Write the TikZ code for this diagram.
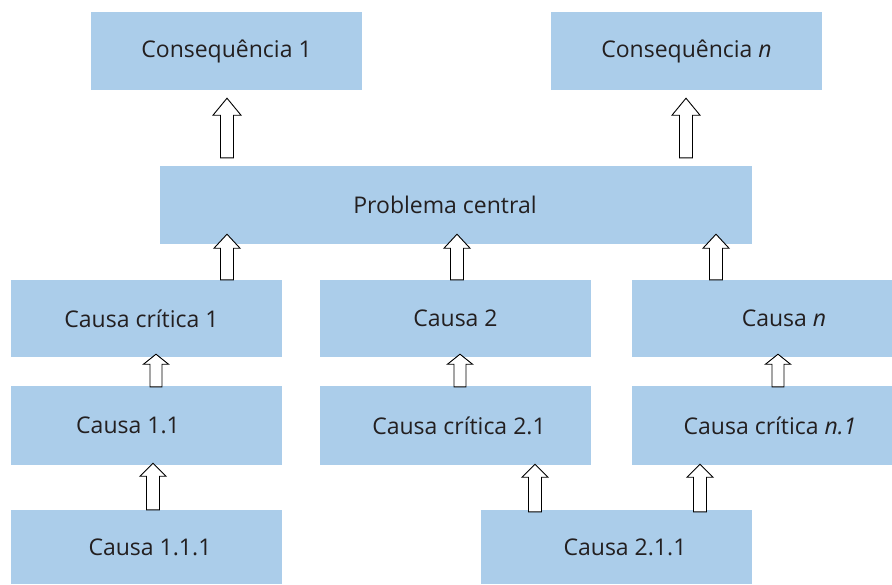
\documentclass[tikz,border=0pt]{standalone}
\usepackage{fontspec}
\setmainfont{Open Sans}
\usetikzlibrary{calc}
\definecolor{boxblue}{RGB}{171,205,234}
\definecolor{txt}{RGB}{35,31,32}
\tikzset{
  box/.style={fill=boxblue, draw=none, minimum width=#1, minimum height=78pt, inner sep=0pt, text=txt, font=\fontsize{23}{26}\selectfont},
  box/.default=271pt,
  fatarrow/.style={draw=black, fill=white, line width=0.9pt, line join=miter}
}
% #1 x, #2 source, #3 target, #4 bottom gap, #5 top gap, #6 half shaft, #7 half head, #8 head height
\newcommand\fatup[8]{%
  \draw[fatarrow] let \p1=(#2.north), \p2=(#3.south) in
    ({#1pt-#6pt},{\y1+#4pt}) -- ({#1pt-#6pt},{\y2-#5pt-#8pt}) -- ({#1pt-#7pt},{\y2-#5pt-#8pt})
    -- ({#1pt},{\y2-#5pt}) -- ({#1pt+#7pt},{\y2-#5pt-#8pt}) -- ({#1pt+#6pt},{\y2-#5pt-#8pt})
    -- ({#1pt+#6pt},{\y1+#4pt}) -- cycle;}
\begin{document}
\begin{tikzpicture}[x=1pt,y=1pt]
\useasboundingbox (0,0) rectangle (892,-584);
% row 1
\node[box] (c1) at (226.5,-51) {Consequência 1};
\node[box] (cn) at (686.5,-51) {Consequência \textit{n}};
% row 2
\node[box=592pt] (p) at (456,-205) {Problema central\kern22pt};
% row 3
\node[box, minimum height=77pt] (cc1) at (146.5,-318.5) {Causa crítica 1\kern10pt};
\node[box, minimum height=77pt] (ca2) at (455.5,-318.5) {Causa 2};
\node[box=260pt, minimum height=77pt] (can) at (762,-318.5) {\hspace{44pt}Causa \textit{n}};
% row 4
\node[box, minimum height=79pt] (c11) at (146.5,-425.5) {Causa 1.1\kern37pt};
\node[box, minimum height=79pt] (cc21) at (455.5,-425.5) {\hspace{7pt}Causa crítica 2.1};
\node[box=260pt, minimum height=79pt] (ccn1) at (762,-425.5) {\hspace{16pt}Causa crítica \textit{n.1}};
% row 5
\node[box, minimum height=74pt] (c111) at (146.5,-547) {\hspace{7pt}Causa 1.1.1};
\node[box, minimum height=74pt] (c211) at (616.5,-547) {\hspace{17pt}Causa 2.1.1};
% arrows
\fatup{227}{p}{c1}{8}{8}{6.5}{14}{17}
\fatup{686}{p}{cn}{8}{8}{6.5}{14}{17}
\fatup{227}{cc1}{p}{0}{-10}{6.5}{13}{14}
\fatup{457}{ca2}{p}{0}{-10}{6.5}{13}{14}
\fatup{716}{can}{p}{0}{-10}{6.5}{13}{14}
\fatup{156}{c11}{cc1}{-1}{-3}{6}{12.5}{10}
\fatup{460}{cc21}{ca2}{-1}{-3}{6}{12.5}{10}
\fatup{778}{ccn1}{can}{-1}{-3}{6}{12.5}{10}
\fatup{153}{c111}{c11}{0}{-2}{6.5}{13}{13}
\fatup{535}{c211}{cc21}{-2}{-1}{6.5}{13}{13}
\fatup{700}{c211}{ccn1}{-2}{-1}{6.5}{13}{13}
\end{tikzpicture}
\end{document}
